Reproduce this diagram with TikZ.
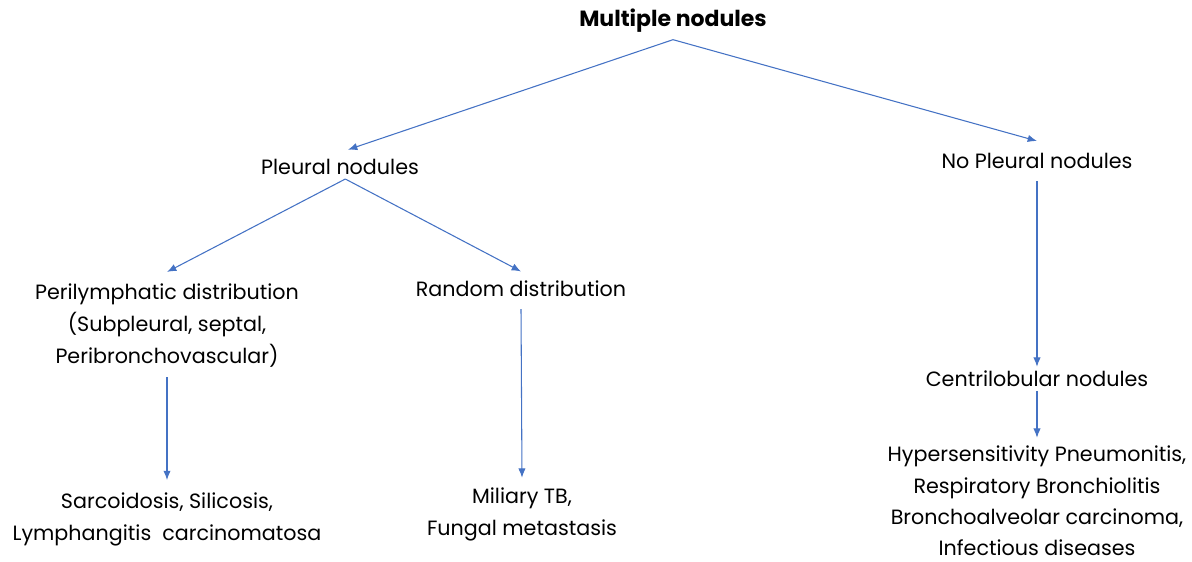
\documentclass[tikz,border=0pt]{standalone}
\usepackage{fontspec}
\usetikzlibrary{arrows.meta}
\setmainfont{Poppins}
\definecolor{arrowblue}{HTML}{4472C4}
\tikzset{
  >={Latex[length=7pt,width=5.5pt]},
}
\tikzstyle{label}=[align=center,inner sep=3pt,font=\fontsize{15.5}{24}\selectfont]
\tikzstyle{link}=[arrowblue,->,line width=0.8pt]

\begin{document}
\begin{tikzpicture}[x=0.75pt,y=-0.75pt]
    \useasboundingbox (0,0) rectangle (1192,561);
    \node[label,font=\fontsize{16.5}{24}\selectfont\bfseries] (top) at (673,21) {Multiple nodules};
    \node[label] (pleural) at (340,167) {Pleural nodules};
    \node[label] (nopleural) at (1037,161) {No Pleural nodules};
    \node[label] (peri) at (167,326) {Perilymphatic distribution\\(Subpleural, septal,\\Peribronchovascular)};
    \node[label] (random) at (521,289) {Random distribution};
    \node[label] (sarc) at (167,519) {Sarcoidosis, Silicosis,\\Lymphangitis\ \ carcinomatosa};
    \node[label] (miliary) at (522,514) {Miliary TB,\\Fungal metastasis};
    \node[label] (centri) at (1037,379) {Centrilobular nodules};
    \node[label,font=\fontsize{15.5}{23.5}\selectfont] (hyper) at (1037,501) {Hypersensitivity Pneumonitis,\\Respiratory Bronchiolitis\\Bronchoalveolar carcinoma,\\Infectious diseases};
    \draw[link] ([yshift=-2pt]top.south) -- ([xshift=6pt,yshift=4pt]pleural.north);
    \draw[link] ([yshift=-2pt]top.south) -- ([yshift=6pt]nopleural.north);
    \draw[link] ([xshift=4pt]pleural.south) -- ([yshift=6pt]peri.north);
    \draw[link] ([xshift=4pt]pleural.south) -- ([yshift=4pt]random.north);
    \draw[link] ([yshift=-4pt]peri.south) -- ([yshift=6pt]sarc.north);
    \draw[link] ([yshift=-6pt]random.south) -- ([yshift=4pt]miliary.north);
    \draw[link] ([yshift=-6pt]nopleural.south) -- (centri.north);
    \draw[link] (centri.south) -- ([yshift=3pt]hyper.north);
  \end{tikzpicture}
\end{document}
